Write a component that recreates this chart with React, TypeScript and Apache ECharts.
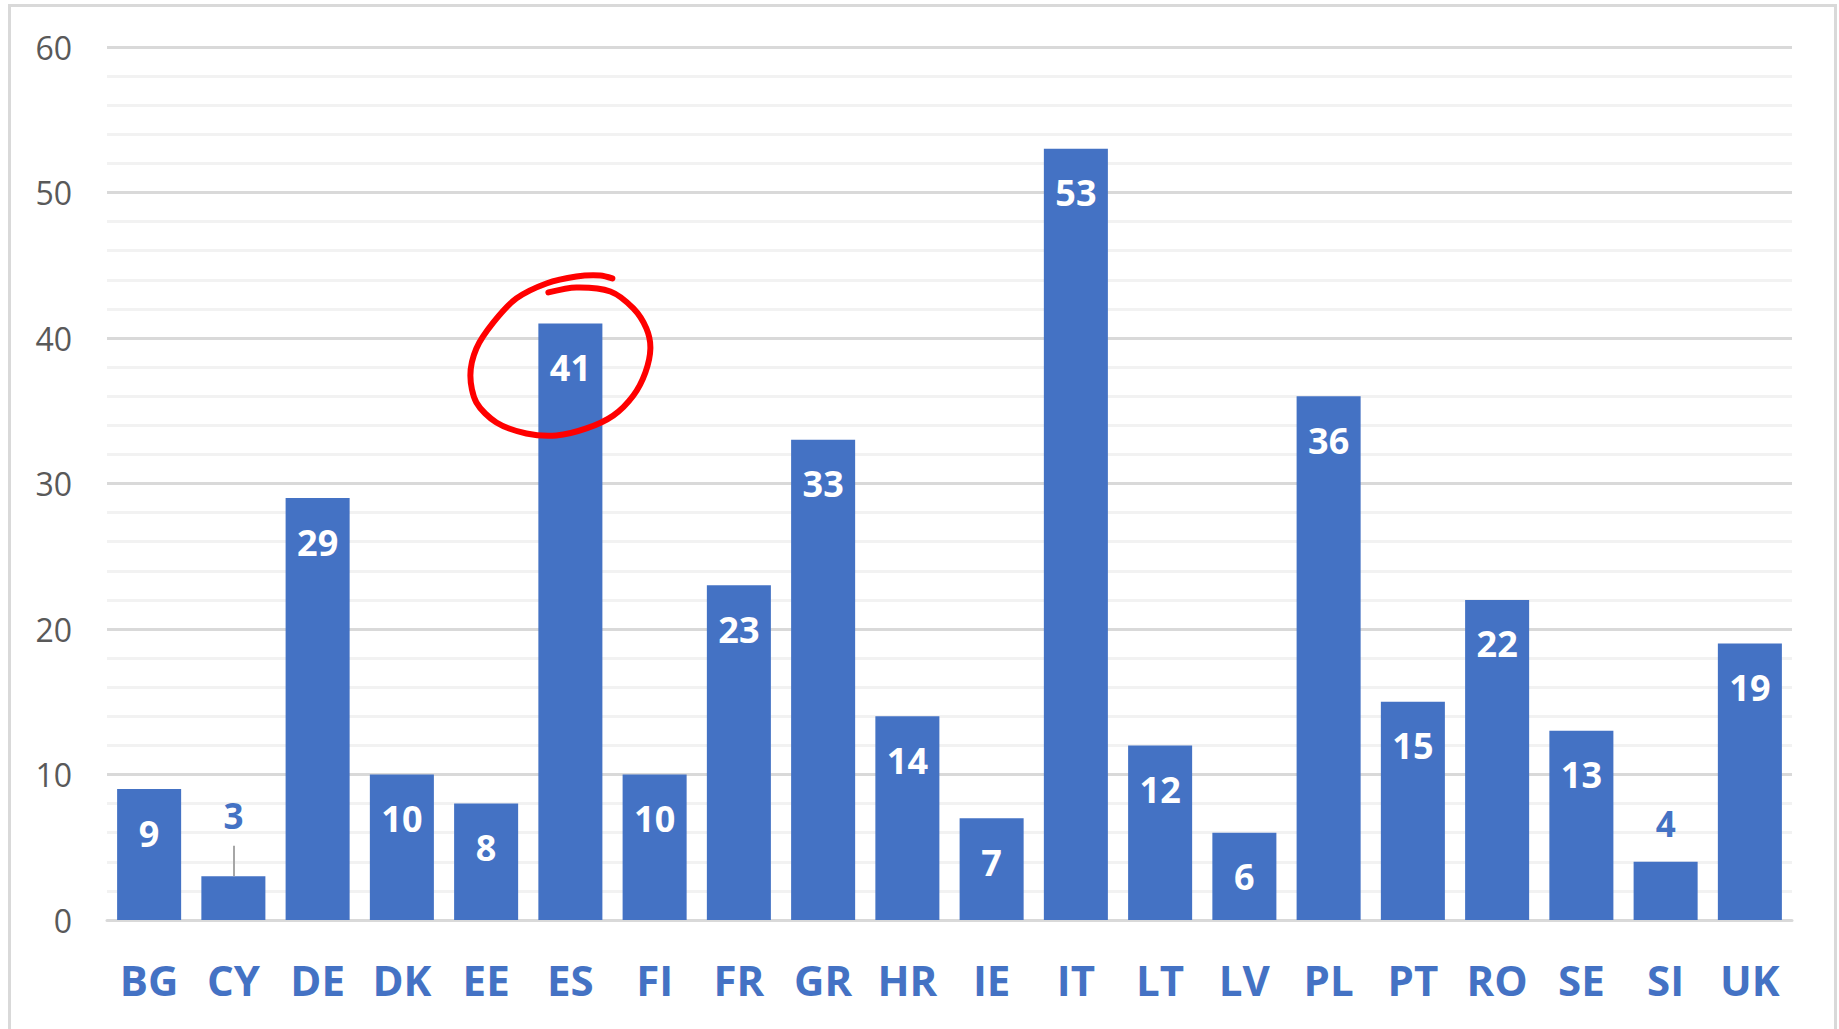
import React, { useEffect, useRef } from "react";
import * as echarts from "echarts";

const categories = ["BG", "CY", "DE", "DK", "EE", "ES", "FI", "FR", "GR", "HR", "IE", "IT", "LT", "LV", "PL", "PT", "RO", "SE", "SI", "UK"];
const values = [9, 3, 29, 10, 8, 41, 10, 23, 33, 14, 7, 53, 12, 6, 36, 15, 22, 13, 4, 19];
const yTicks = [0, 10, 20, 30, 40, 50, 60];
// categories whose labels sit above the bar, with label offset
const outsideLabels: Record<string, number> = { CY: 41, SI: 18 };
// leader line for the dragged CY label: from value to value
const leaderCategory = "CY";
const leaderTop = 5.1;
const highlighted = "ES";

const BLUE = "#4472c4";
const FONT = "Open Sans";

export default function App() {
  const ref = useRef<HTMLDivElement>(null);
  useEffect(() => {
    const chart = echarts.init(ref.current!, undefined, { renderer: "svg" });
    const data = values.map((v, i) => {
      const c = categories[i];
      if (c in outsideLabels) {
        return {
          value: v,
          label: {
            position: "top",
            distance: outsideLabels[c],
            color: BLUE,
            fontSize: 35,
            lineHeight: 40,
          },
        };
      }
      return { value: v };
    });
    const leaderIdx = categories.indexOf(leaderCategory);
    chart.setOption({
      animation: false,
      backgroundColor: "#ffffff",
      grid: { left: 107, right: 47, top: 47, bottom: 109, containLabel: false },
      xAxis: {
        type: "category",
        data: categories,
        axisLine: { lineStyle: { color: "#d9d9d9", width: 3 } },
        axisTick: { show: false },
        axisLabel: {
          interval: 0,
          margin: 34,
          fontSize: 42,
          lineHeight: 50,
          fontWeight: "bold",
          fontFamily: FONT,
          color: BLUE,
        },
      },
      yAxis: {
        type: "value",
        min: yTicks[0],
        max: yTicks[yTicks.length - 1],
        interval: 10,
        axisLine: { show: false },
        axisTick: { show: false },
        axisLabel: { fontSize: 32, color: "#595959", fontFamily: FONT, margin: 35 },
        splitLine: { lineStyle: { color: "#d9d9d9", width: 3 } },
        minorTick: { show: false, splitNumber: 5 },
        minorSplitLine: { show: true, lineStyle: { color: "#f2f2f2", width: 3 } },
      },
      series: [
        {
          type: "bar",
          data,
          barWidth: "76%",
          itemStyle: { color: BLUE },
          label: {
            show: true,
            position: "insideTop",
            distance: 22,
            color: "#ffffff",
            fontSize: 36,
            lineHeight: 44,
            fontWeight: "bold",
            fontFamily: FONT,
          },
          markLine: {
            silent: true,
            symbol: ["none", "none"],
            label: { show: false },
            lineStyle: { color: "#a6a6a6", width: 2, type: "solid" },
            data: [
              [
                { coord: [leaderIdx, values[leaderIdx]] },
                { coord: [leaderIdx, leaderTop] },
              ],
            ],
          },
        },
      ],
    });

    const hIdx = categories.indexOf(highlighted);
    const p = chart.convertToPixel({ seriesIndex: 0 }, [hIdx, values[hIdx]]) as number[];
    const offsets = [
      [-22, -31], [6, -36], [40, -32], [63, -15], [76, 5], [80, 25], [75, 49],
      [63, 72], [43, 92], [16, 105], [-14, 112], [-44, 110], [-74, 99], [-94, 79],
      [-100, 52], [-94, 25], [-77, -1], [-54, -25], [-24, -40], [6, -47], [30, -48], [42, -45],
    ];
    const pts = offsets.map(([dx, dy]) => [p[0] + dx, p[1] + dy]);
    chart.setOption({
      graphic: [
        {
          type: "rect",
          silent: true,
          shape: { x: 9.5, y: 5.5, width: 1826, height: 1040 },
          style: { fill: "none", stroke: "#d9d9d9", lineWidth: 3 },
        },
        {
          type: "polyline",
          silent: true,
          shape: { points: pts, smooth: 0.3 },
          style: { fill: "none", stroke: "#ff0000", lineWidth: 6, lineCap: "round", lineJoin: "round" },
          z: 100,
        },
      ],
    });
    return () => chart.dispose();
  }, []);
  return (
    <div
      ref={ref}
      style={{ position: "fixed", left: 0, top: 0, width: 1839, height: 1029, background: "#fff" }}
    />
  );
}
